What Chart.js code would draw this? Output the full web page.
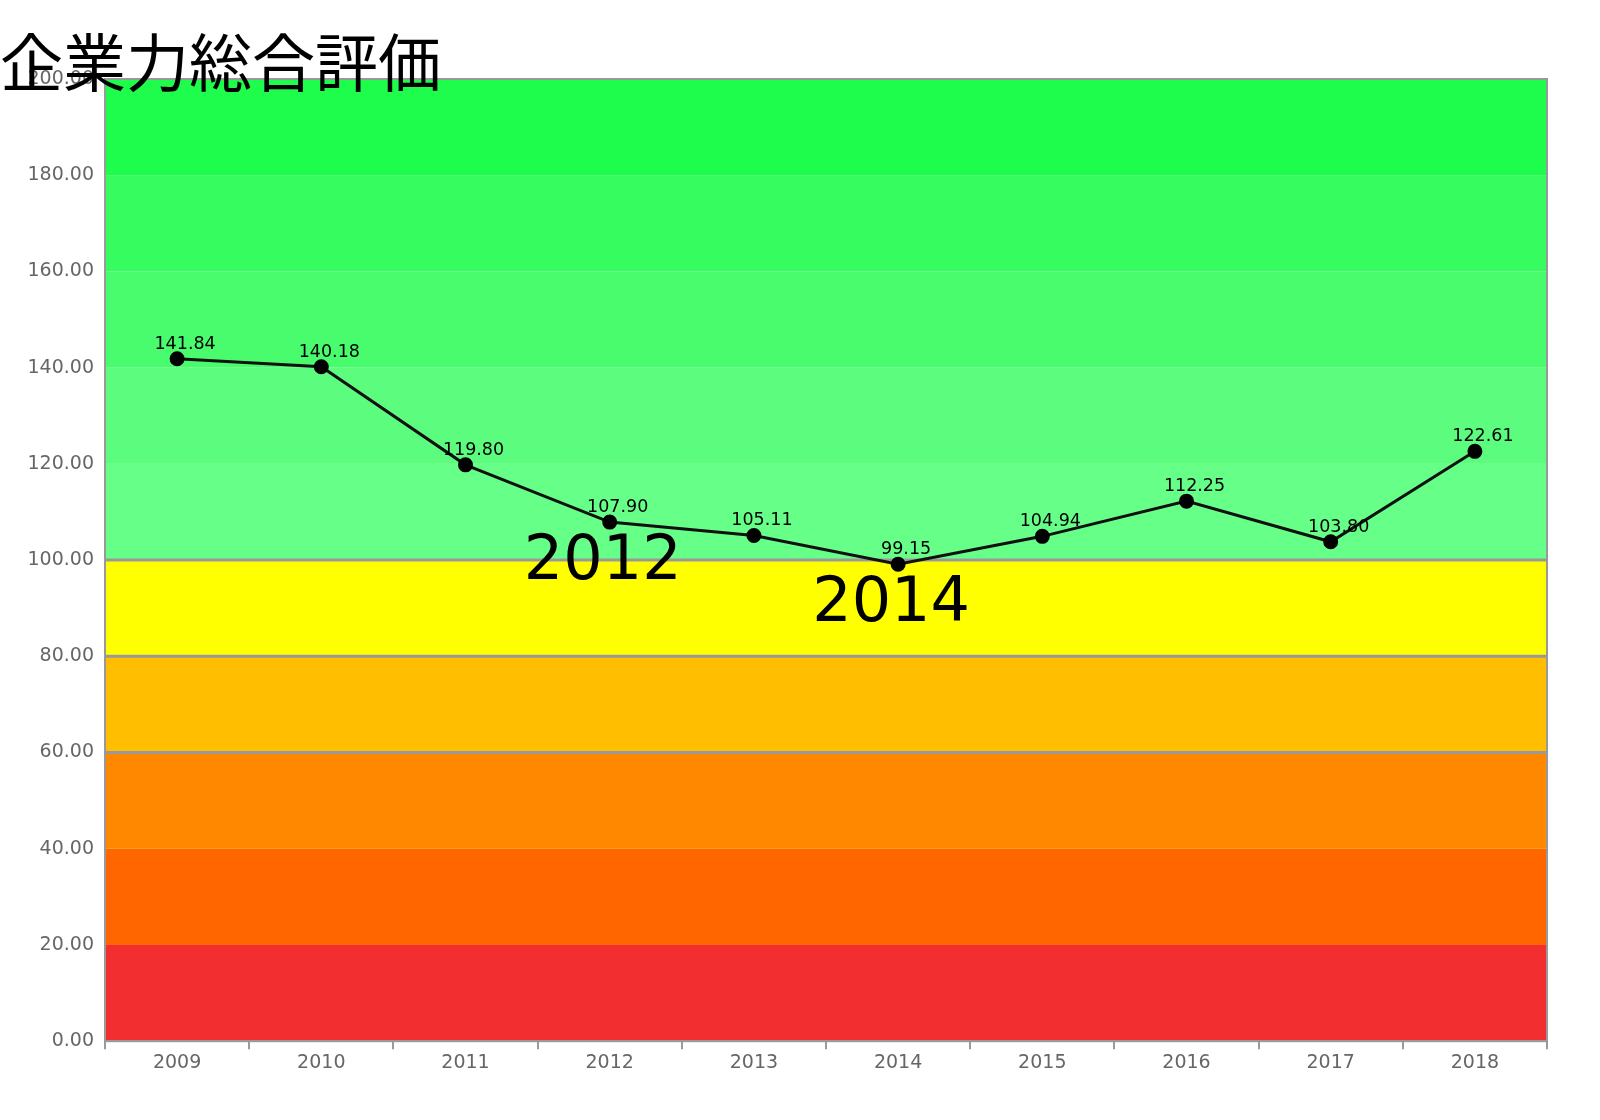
<!DOCTYPE html>
<html>
<head>
<meta charset="utf-8">
<script src="https://cdn.jsdelivr.net/npm/chart.js@4/dist/chart.umd.min.js"></script>
<style>
  body { margin: 0; background: #fff; }
  #wrap { width: 1600px; height: 1120px; }
</style>
</head>
<body>
<div id="wrap"><canvas id="chart"></canvas></div>
<script>
const years = ['2009', '2010', '2011', '2012', '2013', '2014', '2015', '2016', '2017', '2018'];
const scores = [141.84, 140.18, 119.80, 107.90, 105.11, 99.15, 104.94, 112.25, 103.80, 122.61];
const bandEdges = [0, 20, 40, 60, 80, 100, 120, 140, 160, 180, 200];
const bandColors = ['#f22e30', '#ff6600', '#ff8800', '#ffbf00', '#ffff00', '#66ff88', '#5cfd7e', '#48fc6e', '#36fc60', '#1efc4c'];
const lineLevels = [60, 80, 100];
const bigLabels = ['2012', '2014'];

const bands = {
  id: 'bands',
  beforeDraw(chart) {
    const { ctx, chartArea: a, scales: { y } } = chart;
    ctx.save();
    for (let i = 0; i < bandColors.length; i++) {
      const t = y.getPixelForValue(bandEdges[i + 1]);
      const b = y.getPixelForValue(bandEdges[i]);
      ctx.fillStyle = bandColors[i];
      ctx.fillRect(a.left, t, a.right - a.left, b - t);
    }
    ctx.strokeStyle = '#999';
    ctx.lineWidth = 3;
    lineLevels.forEach(v => {
      const p = y.getPixelForValue(v);
      ctx.beginPath(); ctx.moveTo(a.left, p); ctx.lineTo(a.right, p); ctx.stroke();
    });
    ctx.lineWidth = 2;
    ctx.strokeRect(a.left, a.top, a.right - a.left, a.bottom - a.top);
    ctx.restore();
  },
  afterDraw(chart) {
    const { ctx, scales: { x, y } } = chart;
    ctx.save();
    ctx.fillStyle = '#000';
    ctx.textAlign = 'center';
    ctx.textBaseline = 'bottom';
    ctx.font = '17.5px "DejaVu Sans"';
    scores.forEach((v, i) => {
      ctx.fillText(v.toFixed(2), x.getPixelForValue(i) + 8, y.getPixelForValue(v) - 6);
    });
    ctx.font = '62px "DejaVu Sans"';
    ctx.textBaseline = 'alphabetic';
    bigLabels.forEach(lbl => {
      const i = years.indexOf(lbl);
      ctx.fillText(lbl, x.getPixelForValue(i) - 7, y.getPixelForValue(scores[i]) + 57);
    });
    ctx.textAlign = 'left';
    ctx.font = '63px "Noto Sans CJK JP"';
    ctx.fillText('企業力総合評価', 0, 86);
    ctx.restore();
  }
};

new Chart(document.getElementById('chart'), {
  type: 'line',
  data: {
    labels: years,
    datasets: [{
      data: scores,
      borderColor: '#111',
      borderWidth: 3,
      pointBackgroundColor: '#000',
      pointBorderColor: '#000',
      pointRadius: 6,
      tension: 0
    }]
  },
  options: {
    responsive: true,
    maintainAspectRatio: false,
    animation: false,
    layout: { padding: { top: 79, right: 53, left: 0, bottom: 44 } },
    plugins: { legend: { display: false }, tooltip: { enabled: false } },
    scales: {
      y: {
        min: 0, max: 200,
        ticks: { stepSize: 20, color: '#666', font: { family: 'DejaVu Sans', size: 19 }, callback: v => v.toFixed(2) },
        grid: { display: false },
        border: { display: false },
        afterFit(s) { s.width = 105; }
      },
      x: {
        offset: true,
        ticks: { color: '#666', font: { family: 'DejaVu Sans', size: 19 }, padding: 2 },
        grid: { offset: true, drawOnChartArea: false, tickLength: 8, color: '#999', lineWidth: 2 },
        border: { color: '#999', width: 2 }
      }
    }
  },
  plugins: [bands]
});
</script>
</body>
</html>
